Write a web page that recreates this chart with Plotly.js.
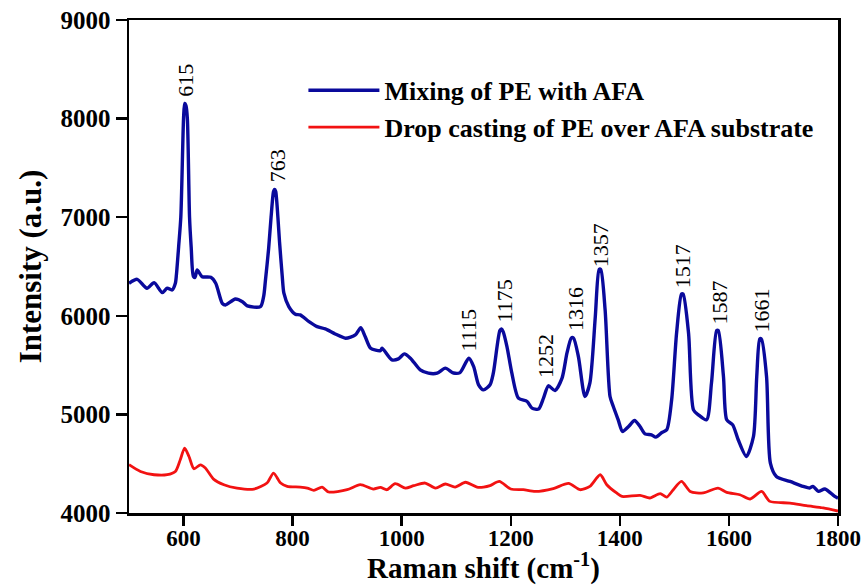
<!DOCTYPE html>
<html>
<head>
<meta charset="utf-8">
<script src="https://cdn.plot.ly/plotly-3.0.1.min.js"></script>
<style>html,body{margin:0;padding:0;background:#fff;}#chart{width:868px;height:585px;}</style>
</head>
<body>
<div id="chart"></div>
<script>
// Mixing of PE with AFA (blue)
const mixShift = [500,515,533,546,561,570,579,585,587,591,595,600,602,604.5,607,611,614,618,621,625,634,650,659,671,677,695,708,717,741,747,750,756,760.5,765,767,769,773,776,781,784,793,805,814,830,845,860,878,897,915,925,933,943,961,964,982,994,1005,1016,1034,1049,1065,1080,1095,1107,1123,1132,1141,1150,1162,1168,1180,1183,1186,1193,1202,1214,1230,1239,1251,1260,1269,1281,1294,1303,1311,1315,1324,1336,1345,1355,1362,1365,1373,1382,1388,1397,1405,1416,1427,1437,1446,1458,1466,1477,1486,1495,1504,1513,1516,1526,1535,1544,1559,1568,1577.5,1580.5,1590,1596,1607,1617,1632,1645,1651,1656.5,1659.5,1669,1676,1687,1712,1736,1748,1754,1764,1776,1794,1800];
const mixIntensity = [6330,6370,6280,6336,6235,6280,6262,6330,6420,6700,7000,8000,8153,8130,8000,7000,6700,6400,6390,6465,6397,6390,6330,6127,6110,6170,6143,6100,6093,6200,6350,6680,7000,7260,7282,7260,7000,6750,6400,6229,6093,6016,6009,5941,5890,5867,5816,5773,5806,5880,5790,5671,5647,5671,5553,5563,5614,5570,5452,5418,5418,5469,5420,5424,5570,5485,5300,5249,5300,5418,5850,5866,5840,5688,5418,5165,5131,5064,5054,5165,5290,5242,5368,5621,5775,5775,5586,5181,5317,5992,6470,6470,6059,5181,5080,4945,4827,4877,4938,4877,4803,4793,4770,4816,4844,5148,5823,6220,6220,5823,5046,4996,4945,5317,5850,5850,5384,4945,4894,4743,4573,4776,5384,5765,5765,5384,4506,4371,4320,4270,4253,4270,4219,4243,4168,4150];

// Drop casting of PE over AFA substrate (red)
const dropShift = [500,521,546,570,585,594,602,610,619,631,640,655,674,698,729,753,765,778,790,814,827,839,854,866,900,924,948,961,973,988,1007,1022,1043,1062,1080,1098,1117,1138,1150,1162,1179,1200,1223,1245,1278,1306,1327,1345,1364,1376,1394,1404,1437,1455,1474,1486,1498,1513,1529,1553,1580,1596,1620,1639,1660,1675,1712,1742,1773,1800];
const dropIntensity = [4490,4421,4388,4388,4421,4540,4658,4573,4449,4489,4456,4344,4287,4253,4243,4304,4405,4304,4270,4263,4253,4229,4263,4213,4236,4287,4243,4260,4236,4297,4253,4277,4304,4253,4294,4263,4312,4263,4263,4277,4320,4243,4236,4219,4248,4300,4236,4270,4388,4287,4203,4168,4179,4152,4196,4162,4236,4320,4219,4203,4253,4209,4185,4142,4219,4118,4101,4074,4051,4020];

// Peak labels
const peakLabels = ["615","763","1115","1175","1252","1316","1357","1517","1587","1661"];
const peakShift = [603.6,771.6,1122.5,1186.7,1265,1318,1363.7,1515,1582,1660];
const peakLabelY = [8389,7517,5847,6150,5595,6069,6715,6498,6136,6050];

const seriesNames = ["Mixing of PE with AFA","Drop casting of PE over AFA substrate"];

const serif = "'Liberation Serif', 'Times New Roman', Times, serif";

const traces = [
  {x: mixShift, y: mixIntensity, type: 'scatter', mode: 'lines', name: seriesNames[0],
   line: {color: '#0a0a9c', width: 3.4, shape: 'spline', smoothing: 0.7}},
  {x: dropShift, y: dropIntensity, type: 'scatter', mode: 'lines', name: seriesNames[1],
   line: {color: '#f21212', width: 2.8, shape: 'spline', smoothing: 0.7}}
];

const annotations = peakLabels.map((t, i) => ({
  x: peakShift[i], y: peakLabelY[i], xref: 'x', yref: 'y', text: t,
  showarrow: false, textangle: -90,
  font: {family: serif, size: 22, color: '#000'}
}));

const layout = {
  width: 868, height: 585,
  margin: {l: 129, r: 30, t: 20, b: 72},
  paper_bgcolor: '#fff', plot_bgcolor: '#fff',
  showlegend: true,
  legend: {x: 0.246, y: 0.905, xanchor: 'left', yanchor: 'top',
           bgcolor: 'rgba(0,0,0,0)', borderwidth: 0,
           font: {family: serif, size: 26, color: '#000', weight: 'bold'},
           itemwidth: 71, tracegroupgap: 0},
  xaxis: {range: [500, 1800], tick0: 0, dtick: 200, showgrid: false, zeroline: false,
          showline: true, linecolor: '#000', linewidth: 2.5, mirror: true,
          ticks: 'outside', ticklen: 10, tickwidth: 2.5, tickcolor: '#000',
          ticklabelstandoff: -7,
          tickfont: {family: serif, size: 23, color: '#000', weight: 'bold'},
          title: {text: 'Raman shift (cm<sup>-1</sup>)', standoff: 12,
                  font: {family: serif, size: 29, color: '#000', weight: 'bold'}}},
  yaxis: {range: [4000, 9000], dtick: 1000, showgrid: false, zeroline: false,
          showline: true, linecolor: '#000', linewidth: 2.5, mirror: true,
          ticks: 'outside', ticklen: 11, tickwidth: 2.5, tickcolor: '#000',
          tickfont: {family: serif, size: 25, color: '#000', weight: 'bold'},
          title: {text: 'Intensity (a.u.)', standoff: 10,
                  font: {family: serif, size: 31, color: '#000', weight: 'bold'}}},
  annotations: annotations
};

Plotly.newPlot('chart', traces, layout, {displayModeBar: false, staticPlot: true});
</script>
</body>
</html>
